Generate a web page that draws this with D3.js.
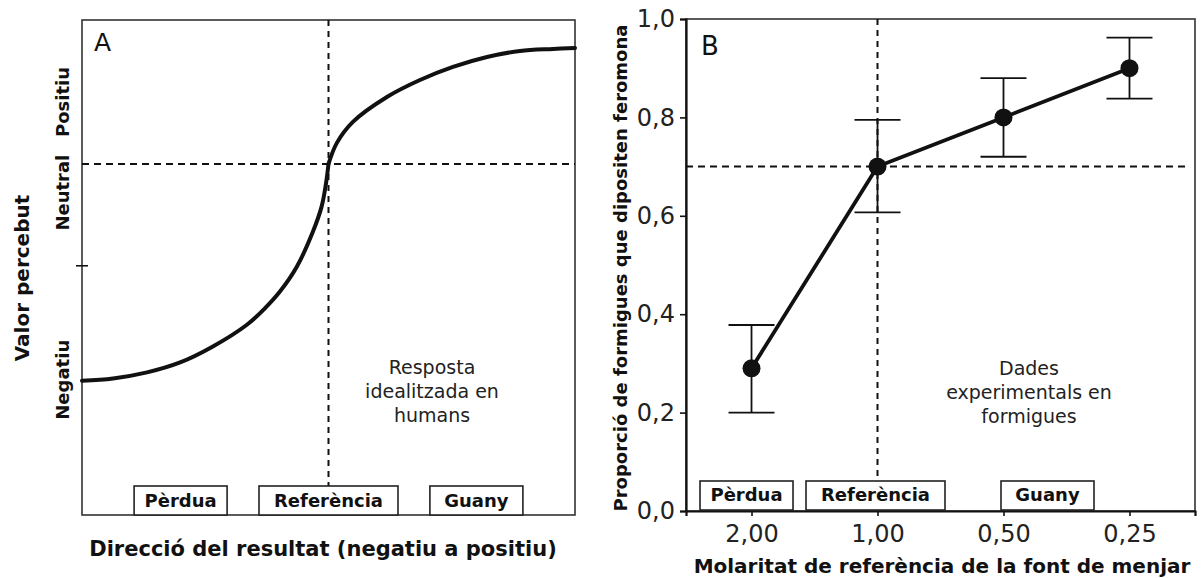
<!DOCTYPE html>
<html>
<head>
<meta charset="utf-8">
<script src="https://cdn.jsdelivr.net/npm/d3@7"></script>
<style>
  body { margin: 0; background: #fff; }
  svg { display: block; font-family: "DejaVu Sans", Verdana, sans-serif; }
</style>
</head>
<body>
<div id="chart"></div>
<script>
// Panel A: idealised response curve (x: outcome direction, y: perceived value, neutral = 0)
const curveX = [-1, -0.874, -0.736, -0.602, -0.469, -0.331, -0.264, -0.197, -0.128, -0.063, -0.028, -0.010, 0,
                0.034, 0.099, 0.237, 0.371, 0.505, 0.643, 0.777, 0.911, 1];
const curveY = [-1.507, -1.491, -1.449, -1.380, -1.269, -1.118, -1.014, -0.887, -0.713, -0.470, -0.297, -0.134, 0,
                0.146, 0.292, 0.465, 0.583, 0.674, 0.743, 0.785, 0.799, 0.806];
const valueLabels = ["Negatiu", "Neutral", "Positiu"];
const valueLabelY = [-1.5, -0.2, 0.43];
const stages = ["Pèrdua", "Referència", "Guany"];
const stageX = [-0.6, 0, 0.6];

// Panel B: experimental data in ants
const molarity = ["2,00", "1,00", "0,50", "0,25"];
const proportion = [0.29, 0.70, 0.80, 0.90];
const errLow = [0.20, 0.607, 0.72, 0.838];
const errHigh = [0.378, 0.795, 0.88, 0.962];
const yTicksB = [0, 0.2, 0.4, 0.6, 0.8, 1.0];
const stageMolarity = ["2,00", "1,00", "0,50"];
const referenceValue = 0.70;

const W = 1201, H = 578;
const svg = d3.select("#chart").append("svg").attr("width", W).attr("height", H);
const BLACK = "#111";

// ---------- Panel A ----------
const A = { left: 82, right: 575, top: 20, bottom: 515 };
const xA = d3.scaleLinear().domain([-1, 1]).range([A.left, A.right]);
const yA = d3.scaleLinear().domain([-2.44, 1]).range([A.bottom, A.top]);

const gA = svg.append("g");

gA.append("rect")
    .attr("x", A.left).attr("y", A.top)
    .attr("width", A.right - A.left).attr("height", A.bottom - A.top)
    .attr("fill", "none").attr("stroke", "#333").attr("stroke-width", 1.6);

// neutral / reference dashed lines
gA.append("line")
    .attr("x1", A.left).attr("x2", A.right)
    .attr("y1", yA(0)).attr("y2", yA(0))
    .attr("stroke", BLACK).attr("stroke-width", 2).attr("stroke-dasharray", "7,5");
gA.append("line")
    .attr("x1", xA(0)).attr("x2", xA(0))
    .attr("y1", A.top).attr("y2", A.bottom)
    .attr("stroke", BLACK).attr("stroke-width", 2).attr("stroke-dasharray", "6,5");

// small tick on the value axis
gA.append("line")
    .attr("x1", A.left - 6).attr("x2", A.left + 6)
    .attr("y1", yA(-0.708)).attr("y2", yA(-0.708))
    .attr("stroke", BLACK).attr("stroke-width", 1.6);

// curve drawn as two branches that meet at the reference point
const curvePts = curveX.map((x, i) => [x, curveY[i]]);
const curveLine = d3.line().x(d => xA(d[0])).y(d => yA(d[1])).curve(d3.curveCatmullRom.alpha(0.5));
[curvePts.filter(d => d[0] <= 0), curvePts.filter(d => d[0] >= 0)].forEach(branch => {
  gA.append("path")
    .datum(branch)
    .attr("fill", "none").attr("stroke", BLACK).attr("stroke-width", 4)
    .attr("stroke-linecap", "round")
    .attr("d", curveLine);
});

gA.append("text").attr("x", 94).attr("y", 51)
    .attr("font-size", 25).attr("fill", BLACK).text("A");

// value labels (rotated)
valueLabels.forEach((t, i) => {
  gA.append("text")
    .attr("transform", `translate(69,${yA(valueLabelY[i])}) rotate(-90)`)
    .attr("text-anchor", "middle")
    .attr("font-size", 18).attr("font-weight", "bold").attr("fill", BLACK)
    .text(t);
});
gA.append("text")
    .attr("transform", `translate(29,278) rotate(-90)`)
    .attr("text-anchor", "middle")
    .attr("font-size", 20).attr("font-weight", "bold").attr("fill", BLACK)
    .text("Valor percebut");

// annotation
["Resposta", "idealitzada en", "humans"].forEach((t, i) => {
  gA.append("text")
    .attr("x", 432).attr("y", 374 + i * 24)
    .attr("text-anchor", "middle").attr("font-size", 19).attr("fill", "#222")
    .text(t);
});

// stage boxes
const boxW = [93, 139, 93];
stages.forEach((s, i) => {
  const cx = xA(stageX[i]);
  gA.append("rect")
    .attr("x", cx - boxW[i] / 2).attr("y", A.bottom - 29)
    .attr("width", boxW[i]).attr("height", 29)
    .attr("fill", "#fff").attr("stroke", "#222").attr("stroke-width", 1.6);
  gA.append("text")
    .attr("x", cx).attr("y", A.bottom - 8)
    .attr("text-anchor", "middle").attr("font-size", 18).attr("font-weight", "bold").attr("fill", BLACK)
    .text(s);
});

gA.append("text")
    .attr("x", 323).attr("y", 556)
    .attr("text-anchor", "middle").attr("font-size", 21).attr("font-weight", "bold").attr("fill", BLACK)
    .text("Direcció del resultat (negatiu a positiu)");

// ---------- Panel B ----------
const B = { left: 686, right: 1195, top: 19, bottom: 511 };
const xB = d3.scalePoint().domain(molarity).range([B.left, B.right]).padding(0.52);
const yB = d3.scaleLinear().domain([0, 1]).range([B.bottom, B.top]);
const fmt = v => d3.format(".1f")(v).replace(".", ",");

const gB = svg.append("g");

gB.append("rect")
    .attr("x", B.left).attr("y", B.top)
    .attr("width", B.right - B.left).attr("height", B.bottom - B.top)
    .attr("fill", "none").attr("stroke", "#333").attr("stroke-width", 1.6);

const yAxis = gB.append("g")
    .attr("transform", `translate(${B.left},0)`)
    .call(d3.axisLeft(yB).tickValues(yTicksB).tickFormat(fmt).tickSize(6).tickPadding(5));
yAxis.select(".domain").attr("stroke", BLACK).attr("stroke-width", 2.2);
yAxis.selectAll(".tick line").attr("stroke", BLACK).attr("stroke-width", 1.6);
yAxis.selectAll(".tick text").attr("font-size", 24).attr("fill", "#222")
    .attr("font-family", "DejaVu Sans");

const xAxis = gB.append("g")
    .attr("transform", `translate(0,${B.bottom})`)
    .call(d3.axisBottom(xB).tickSize(5).tickPadding(9));
xAxis.select(".domain").attr("stroke", BLACK).attr("stroke-width", 2.2);
xAxis.selectAll(".tick line").attr("stroke", BLACK).attr("stroke-width", 1.6);
xAxis.selectAll(".tick text").attr("font-size", 24).attr("fill", "#222")
    .attr("font-family", "DejaVu Sans");

// reference dashed lines
gB.append("line")
    .attr("x1", B.left).attr("x2", B.right - 7)
    .attr("y1", yB(referenceValue)).attr("y2", yB(referenceValue))
    .attr("stroke", BLACK).attr("stroke-width", 2).attr("stroke-dasharray", "7,5");
gB.append("line")
    .attr("x1", xB("1,00")).attr("x2", xB("1,00"))
    .attr("y1", B.top).attr("y2", B.bottom)
    .attr("stroke", BLACK).attr("stroke-width", 2).attr("stroke-dasharray", "6,5");

// error bars
molarity.forEach((m, i) => {
  const x = xB(m);
  gB.append("line").attr("x1", x).attr("x2", x)
    .attr("y1", yB(errLow[i])).attr("y2", yB(errHigh[i]))
    .attr("stroke", BLACK).attr("stroke-width", 1.8);
  [errLow[i], errHigh[i]].forEach(v => {
    gB.append("line").attr("x1", x - 23).attr("x2", x + 23)
      .attr("y1", yB(v)).attr("y2", yB(v))
      .attr("stroke", BLACK).attr("stroke-width", 1.8);
  });
});

gB.append("path")
    .datum(molarity.map((m, i) => [m, proportion[i]]))
    .attr("fill", "none").attr("stroke", BLACK).attr("stroke-width", 3.8)
    .attr("d", d3.line().x(d => xB(d[0])).y(d => yB(d[1])));

gB.selectAll("circle.pt")
    .data(molarity.map((m, i) => [m, proportion[i]]))
    .enter().append("circle")
    .attr("cx", d => xB(d[0])).attr("cy", d => yB(d[1]))
    .attr("r", 9).attr("fill", BLACK);

gB.append("text").attr("x", 701).attr("y", 55)
    .attr("font-size", 26).attr("fill", BLACK).text("B");

["Dades", "experimentals en", "formigues"].forEach((t, i) => {
  gB.append("text")
    .attr("x", 1029).attr("y", 375 + i * 24)
    .attr("text-anchor", "middle").attr("font-size", 19).attr("fill", "#222")
    .text(t);
});

// stage boxes in B
const boxOffsetB = [-5, -2, 44];
stages.forEach((s, i) => {
  const cx = xB(stageMolarity[i]) + boxOffsetB[i];
  gB.append("rect")
    .attr("x", cx - boxW[i] / 2).attr("y", B.bottom - 30)
    .attr("width", boxW[i]).attr("height", 29)
    .attr("fill", "#fff").attr("stroke", "#222").attr("stroke-width", 1.6);
  gB.append("text")
    .attr("x", cx).attr("y", B.bottom - 10)
    .attr("text-anchor", "middle").attr("font-size", 18).attr("font-weight", "bold").attr("fill", BLACK)
    .text(s);
});

gB.append("text")
    .attr("transform", `translate(627,${(B.top + B.bottom) / 2 + 3}) rotate(-90)`)
    .attr("text-anchor", "middle")
    .attr("font-size", 18).attr("font-weight", "bold").attr("fill", BLACK)
    .text("Proporció de formigues que dipositen feromona");

gB.append("text")
    .attr("x", 942).attr("y", 573)
    .attr("text-anchor", "middle").attr("font-size", 20).attr("font-weight", "bold").attr("fill", BLACK)
    .text("Molaritat de referència de la font de menjar");
</script>
</body>
</html>
